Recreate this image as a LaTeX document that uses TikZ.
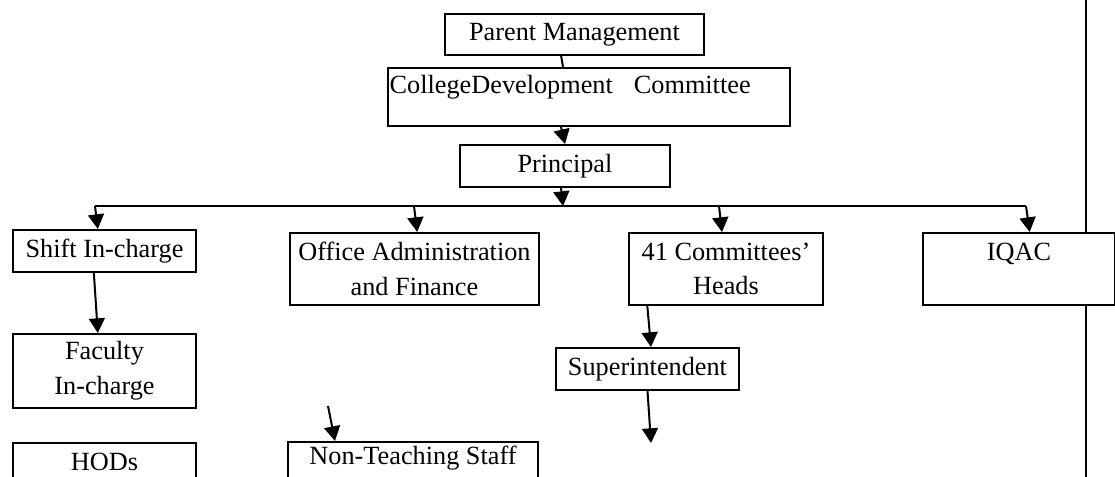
\documentclass[tikz,border=0pt]{standalone}
\usepackage{fontspec}
\setmainfont{Liberation Serif}
\usetikzlibrary{arrows.meta}

\newcommand\orgfont{\fontsize{19.7}{26}\selectfont}

\tikzset{
  orgbox/.style={draw,line width=1.5pt,fill=white,font=\orgfont,
    align=center,inner sep=0pt,anchor=north west},
  arr/.style={line width=1.5pt,-{Triangle[width=12pt,length=11pt]}},
}

\begin{document}
\begin{tikzpicture}[x=0.75pt,y=-0.75pt]
  \useasboundingbox (0,0) rectangle (1115,477);
  \clip (0,0) rectangle (1115,477);

  % rule down the right-hand side
  \coordinate (rule-top) at (1086,0);
  \coordinate (rule-bot) at (1086,477);
  \draw[line width=1.5pt] (rule-top) -- (rule-bot);

  % top of the chart
  \node[orgbox,minimum width=194.25pt,minimum height=30.75pt] (pm) at (444,13) {Parent Management};
  \node[orgbox,minimum width=301.5pt,minimum height=43.5pt,align=left,
        text width=299pt,inner xsep=1.25pt] (cdc) at (387,67)
        {CollegeDevelopment\hspace{0.8em}Committee\\[-6.4pt]\mbox{}};
  \node[orgbox,minimum width=157.5pt,minimum height=31.5pt] (prin) at (459,144) {Principal};

  % second row
  \node[orgbox,minimum width=137.25pt,minimum height=31.5pt] (shift) at (12,229) {Shift In-charge};
  \node[orgbox,minimum width=186.75pt,minimum height=54pt] (office) at (289,232) {Office Administration\\and Finance};
  \node[orgbox,minimum width=145.5pt,minimum height=54pt] (comm) at (628,232) {41 Committees’\\Heads};
  \node[orgbox,minimum width=144pt,minimum height=54pt] (iqac) at (922,232) {IQAC\\\mbox{}};

  % lower rows
  \node[orgbox,minimum width=137.25pt,minimum height=55.5pt] (faculty) at (12,333) {Faculty\\In-charge};
  \node[orgbox,minimum width=137.25pt,minimum height=31.5pt] (super) at (555,347) {Superintendent};
  \node[orgbox,minimum width=137.25pt,minimum height=28pt] (hods) at (12,442) {HODs};
  \node[orgbox,minimum width=187.5pt,inner ysep=2.9pt] (nonteach) at (287,441) {Non-Teaching Staff\\\mbox{}};

  % bus under the principal
  \coordinate (bus-w) at (95,206);
  \coordinate (bus-c) at (563,206);
  \coordinate (bus-o) at (414,206);
  \coordinate (bus-h) at (719,206);
  \coordinate (bus-e) at (1026,206);
  \coordinate (sup-end) at (651,443);
  \coordinate (nt-start) at (328,406);

  \draw[line width=1.5pt] ([xshift=-10pt]pm.south) -- ([xshift=-19.5pt]cdc.north);
  \draw[arr] ([xshift=-21pt]cdc.south) -- (prin.north);
  \draw[arr] ([xshift=-3pt]prin.south) -- (bus-c);
  \draw[line width=1.5pt] (bus-w) -- (bus-e);
  \draw[arr] (bus-w) -- ([xshift=-5pt]shift.north);
  \draw[arr] (bus-o) -- ([xshift=2pt]office.north);
  \draw[arr] (bus-h) -- ([xshift=-3pt]comm.north);
  \draw[arr] (bus-e) -- ([xshift=8pt]iqac.north);
  \draw[arr] ([xshift=-8pt]shift.south) -- ([xshift=-5pt]faculty.north);
  \draw[arr] ([xshift=-59pt]comm.south) -- ([xshift=2.6pt]super.north);
  \draw[arr] (super.south) -- (sup-end);
  \draw[arr] (nt-start) -- ([xshift=-58.5pt]nonteach.north);
\end{tikzpicture}
\end{document}
